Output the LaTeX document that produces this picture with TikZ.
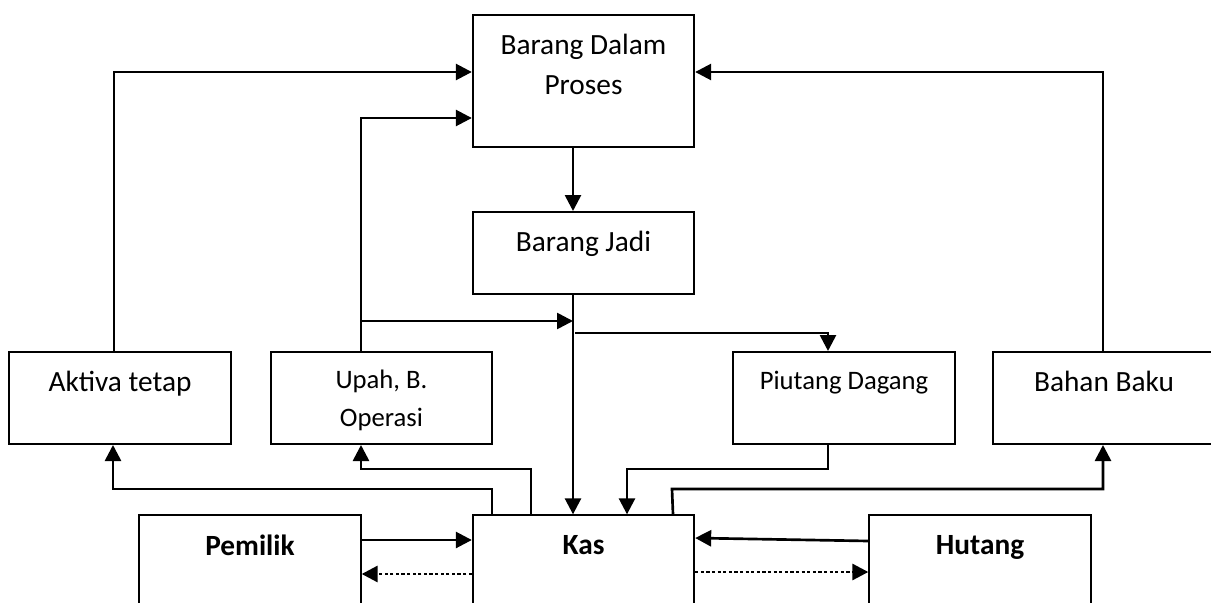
\documentclass[tikz,border=0pt]{standalone}
\usepackage{fontspec}
\setmainfont{Carlito}
\usetikzlibrary{arrows.meta,positioning}

\begin{document}
\begin{tikzpicture}[
            x=0.375pt, y=-0.375pt,
            box/.style={draw, rectangle, line width=0.75pt, minimum width=83pt, inner sep=0pt},
            txt/.style={inner sep=0pt, anchor=north, align=center, font=\fontsize{11}{15}\selectfont},
            small/.style={font=\fontsize{10}{14.25}\selectfont},
            arr/.style={line width=1pt, -{Triangle[length=6pt,width=6pt]}},
            back/.style={arr, line width=1.1pt, dash pattern=on 1.2pt off 0.9pt}
            ]
            \useasboundingbox (0,0) rectangle (1211,603);
            \clip (0,0) rectangle (1211,603);

            % Boxes with manual coordinates
            \node[box, minimum height=49.5pt] (bdp) at (583.5,81) {};
            \node[box, minimum height=30.75pt] (jadi) at (583.5,253) {};
            \node[box, minimum height=34.5pt] (aktiva) at (120,398) {};
            \node[box, minimum height=34.5pt] (upah) at (381.5,398) {};
            \node[box, minimum height=34.5pt] (piutang) at (844,398) {};
            \node[box, minimum height=34.5pt] (bahan) at (1104,398) {};
            \node[box, minimum height=50pt] (pemilik) at (250,582) {};
            \node[box, minimum height=50pt] (kas) at (583.5,582) {};
            \node[box, minimum height=50pt] (hutang) at (980,582) {};

            % Texts
            \node[txt, below=7.3pt of bdp.north] (bdptxt) {Barang Dalam\\Proses};
            \node[txt, below=7.5pt of jadi.north] (jaditxt) {Barang Jadi};
            \node[txt, below=7.3pt of aktiva.north] (aktivatxt) {Aktiva tetap};
            \node[txt, small, below=6.8pt of upah.north] (upahtxt) {Upah, B.\\Operasi};
            \node[txt, small, below=7.4pt of piutang.north] (piutangtxt) {Piutang Dagang};
            \node[txt, below=7.3pt of bahan.north] (bahantxt) {Bahan Baku};
            \node[txt, below=7.6pt of pemilik.north] (pemiliktxt) {\textbf{Pemilik}};
            \node[txt, below=7.6pt of kas.north] (kastxt) {\textbf{Kas}};
            \node[txt, below=7.6pt of hutang.north] (hutangtxt) {\textbf{Hutang}};

            % Branch points
            \coordinate (upahbr) at (361,321);
            \coordinate (kasbr) at (573,321);
            \coordinate (piutangbr) at (575,333);

            % Arrows
            \draw[arr] (aktiva.north -| 114,0) |- (bdp.west |- 0,72);
            \draw[arr] (upah.north -| 361,0) |- (bdp.west |- 0,118);
            \draw[arr] (bahan.north -| 1103,0) |- (bdp.east |- 0,72);
            \draw[arr] (bdp.south -| 573,0) -- (jadi.north -| 573,0);
            \draw[arr] (jadi.south -| 573,0) -- (kas.north -| 573,0);
            \draw[arr] (upahbr) -- (kasbr);
            \draw[arr] (piutangbr) -| (piutang.north -| 828,0);
            \draw[arr] (kas.north -| 492,0) -- (492,489) -| (aktiva.south -| 113,0);
            \draw[arr] (kas.north -| 531,0) -- (531,469) -| (upah.south -| 361,0);
            \draw[arr] (piutang.south -| 828,0) -- (828,469) -| (kas.north -| 627,0);
            \draw[arr] (kas.north -| 673,0) -- (672,489) -| (bahan.south -| 1103,0);
            \draw[arr] (pemilik.east |- 0,540) -- (kas.west |- 0,540);
            \draw[back] (kas.west |- 0,574) -- (pemilik.east |- 0,574);
            \draw[arr] (hutang.west |- 0,541) -- (kas.east |- 0,538);
            \draw[back] (kas.east |- 0,572) -- (hutang.west |- 0,572);
        \end{tikzpicture}
\end{document}
